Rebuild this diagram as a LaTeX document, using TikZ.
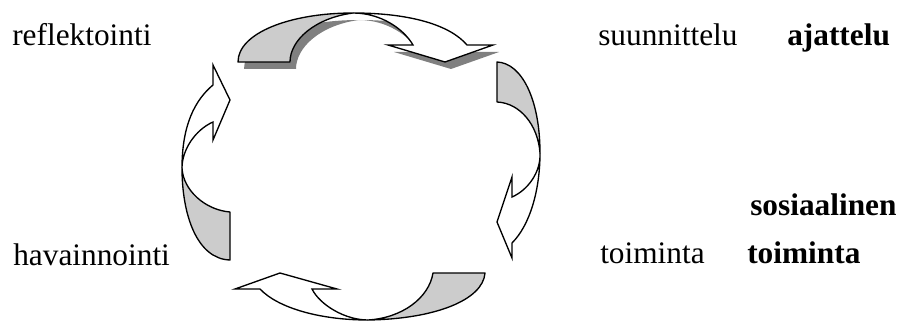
\documentclass[tikz,border=0pt]{standalone}
\usepackage{fontspec}
\setmainfont{Liberation Serif}
\definecolor{backgray}{RGB}{204,204,204}
\definecolor{shadowgray}{RGB}{128,128,128}
\begin{document}
\begin{tikzpicture}[x=0.75pt,y=-0.75pt,
  back/.style={draw=black,fill=backgray,line width=1pt,line join=round},
  front/.style={draw=black,fill=white,line width=1pt,line join=miter},
  label/.style={inner sep=0pt,anchor=base west,font=\fontsize{23.5}{28}\selectfont}]
  \useasboundingbox (0,0) rectangle (903,324);

  % shadow of the upper arrow
  \begin{scope}
    \clip (200,13) -- (353,13) .. controls (410,13) and (450,25) .. (467,45)
      -- (530,45) -- (530,95) -- (200,95) -- cycle;
    \fill[shadowgray,shift={(6,7)}] (238,62) .. controls (238,33) and (290,13) .. (353,13)
      .. controls (410,13) and (450,25) .. (467,45) -- (493,45) -- (445,62) -- (388,45) -- (413,45)
      .. controls (403,28) and (380,13) .. (353,13) .. controls (315,18) and (290,40) .. (290,62) -- cycle;
  \end{scope}

  % upper arrow: reflektointi -> suunnittelu
  \draw[back] (238,62) .. controls (238,33) and (290,13) .. (353,13)
    .. controls (315,18) and (290,40) .. (290,62) -- cycle;
  \draw[front] (353,13) .. controls (410,13) and (450,25) .. (467,45)
    -- (493,45) -- (445,62) -- (388,45) -- (413,45)
    .. controls (403,28) and (380,13) .. (353,13);

  % right arrow: suunnittelu -> toiminta
  \draw[back] (497,62) .. controls (522,63) and (540,100) .. (540,153)
    .. controls (538,125) and (520,103) .. (497,102) -- cycle;
  \draw[front] (540,153) .. controls (540,190) and (530,225) .. (512,243)
    -- (512,258) -- (497,222) -- (512,177) -- (512,197)
    .. controls (528,190) and (541,172) .. (540,153);

  % lower arrow: toiminta -> havainnointi
  \draw[back] (485,273) .. controls (483,300) and (435,319) .. (368,320)
    .. controls (402,318) and (429,298) .. (433,273) -- cycle;
  \draw[front] (368,320) .. controls (320,320) and (278,308) .. (260,289)
    -- (235,289) -- (280,273) -- (337,289) -- (312,289)
    .. controls (320,305) and (345,320) .. (368,320);

  % left arrow: havainnointi -> reflektointi
  \draw[back] (230,260) .. controls (197,259) and (182,215) .. (182,168)
    .. controls (183,190) and (205,210) .. (230,212) -- cycle;
  \draw[front] (182,168) .. controls (182,125) and (195,100) .. (213,85)
    -- (213,65) -- (230,100) -- (213,140) -- (213,122)
    .. controls (195,130) and (182,150) .. (182,168);

  % texts
  \node[label] (reflektointi) at (12,46) {reflektointi};
  \node[label] (suunnittelu) at (598,46) {suunnittelu};
  \node[label] (ajattelu) at (787,46) {\textbf{ajattelu}};
  \node[label] (sosiaalinen) at (750,215) {\textbf{sosiaalinen}};
  \node[label] (havainnointi) at (13,265) {havainnointi};
  \node[label] (toiminta) at (600,263) {toiminta};
  \node[label] (stoiminta) at (747,263) {\textbf{toiminta}};
\end{tikzpicture}
\end{document}
